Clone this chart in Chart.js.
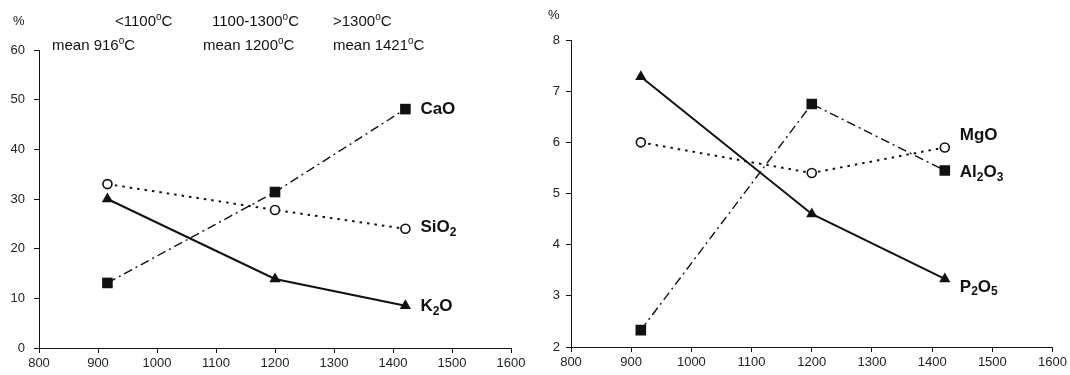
<!DOCTYPE html>
<html>
<head>
<meta charset="utf-8">
<script src="https://cdn.jsdelivr.net/npm/chart.js@4"></script>
<style>
  body { margin: 0; background: #fff; }
  .box { position: absolute; top: 0; width: 535px; height: 375px; }
</style>
</head>
<body>
<div class="box" style="left:0"><canvas id="left" width="535" height="375"></canvas></div>
<div class="box" style="left:535px"><canvas id="right" width="535" height="375"></canvas></div>
<script>
// temperatures (°C)
const temps = [916, 1200, 1421];

// left panel, wt %
const cao = [13.1, 31.4, 48.1];
const sio2 = [33.0, 27.8, 24.0];
const k2o = [30.0, 13.9, 8.5];

// right panel, wt %
const mgo = [6.0, 5.4, 5.9];
const al2o3 = [2.33, 6.75, 5.45];
const p2o5 = [7.28, 4.6, 3.33];

const rangeLabels = ['<1100°C', '1100-1300°C', '>1300°C'];
const meanLabels = ['mean 916°C', 'mean 1200°C', 'mean 1421°C'];

const FONT = '"Liberation Sans", Arial, sans-serif';
const INK = '#111';

function pts(ys) {
    return temps.map((t, i) => ({ x: t, y: ys[i] }));
}

// text with digits as subscripts (CaO, SiO2, K2O ...)
function drawFormula(ctx, text, x, y) {
    let cx = x;
    for (const ch of text) {
        const sub = /[0-9]/.test(ch);
        ctx.font = sub ? 'bold 12px ' + FONT : 'bold 17px ' + FONT;
        ctx.fillText(ch, cx, sub ? y + 5 : y);
        cx += ctx.measureText(ch).width;
    }
}

// '°' drawn as a raised small o, like the original figure
function drawDeg(ctx, text, x, y) {
    let cx = x;
    const parts = text.split('°');
    parts.forEach((p, i) => {
        if (i > 0) {
            ctx.font = '10px ' + FONT;
            ctx.fillText('o', cx, y - 5);
            cx += ctx.measureText('o').width;
        }
        ctx.font = '15px ' + FONT;
        ctx.fillText(p, cx, y);
        cx += ctx.measureText(p).width;
    });
}

const seriesLabels = {
    id: 'seriesLabels',
    afterDatasetsDraw(chart) {
        const ctx = chart.ctx;
        ctx.save();
        ctx.fillStyle = INK;
        ctx.textBaseline = 'middle';
        ctx.textAlign = 'left';
        chart.data.datasets.forEach((ds, i) => {
            const meta = chart.getDatasetMeta(i);
            const last = meta.data[meta.data.length - 1];
            drawFormula(ctx, ds.label, last.x + ds.labelDx, last.y + ds.labelDy);
        });
        ctx.restore();
    }
};

const headers = {
    id: 'headers',
    afterDraw(chart) {
        const ctx = chart.ctx;
        const o = chart.options.plugins.headers;
        ctx.save();
        ctx.fillStyle = INK;
        ctx.textBaseline = 'middle';
        ctx.textAlign = 'left';
        ctx.font = '13px ' + FONT;
        ctx.fillText('%', o.pctX, o.pctY);
        if (o.showRanges) {
            const r1 = [115, 212, 333];
            const r2 = [52, 203, 333];
            rangeLabels.forEach((t, i) => drawDeg(ctx, t, r1[i], 22));
            meanLabels.forEach((t, i) => drawDeg(ctx, t, r2[i], 46));
        }
        ctx.restore();
    }
};

function lineSet(label, ys, kind, dx, dy) {
    const base = {
        label: label,
        data: pts(ys),
        showLine: true,
        borderColor: INK,
        pointBorderColor: INK,
        labelDx: dx,
        labelDy: dy,
    };
    if (kind === 'square') {
        return Object.assign(base, {
            borderWidth: 1.4, borderDash: [9, 4, 2, 4],
            pointStyle: 'rect', pointRadius: 7.5, pointBackgroundColor: INK, pointBorderWidth: 0,
        });
    }
    if (kind === 'circle') {
        return Object.assign(base, {
            borderWidth: 2, borderDash: [2.5, 5],
            pointStyle: 'circle', pointRadius: 4.5, pointBackgroundColor: '#fff', pointBorderWidth: 1.6,
        });
    }
    return Object.assign(base, {
        borderWidth: 2, borderDash: [],
        pointStyle: 'triangle', pointRadius: 6.5, pointBackgroundColor: INK, pointBorderWidth: 0,
    });
}

function makeChart(id, datasets, yMin, yMax, yStep, pad, yWidth, yPad, xHeight, hdr) {
    const axisGrid = {
        display: true,
        drawOnChartArea: false,
        drawTicks: true,
        tickLength: 5,
        tickColor: INK,
        tickWidth: 1,
    };
    return new Chart(document.getElementById(id), {
        type: 'scatter',
        data: { datasets: datasets },
        options: {
            responsive: false,
            animation: false,
            devicePixelRatio: 1,
            layout: { padding: pad },
            plugins: {
                legend: { display: false },
                tooltip: { enabled: false },
                headers: hdr,
            },
            scales: {
                x: {
                    type: 'linear',
                    min: 800,
                    max: 1600,
                    grid: axisGrid,
                    border: { color: INK, width: 1 },
                    ticks: {
                        stepSize: 100,
                        color: '#222',
                        padding: 3,
                        maxRotation: 0,
                        font: { family: FONT, size: 13 },
                        callback: (v) => String(v),
                    },
                    afterFit: (s) => { s.height = xHeight; },
                },
                y: {
                    min: yMin,
                    max: yMax,
                    grid: axisGrid,
                    border: { color: INK, width: 1 },
                    ticks: {
                        stepSize: yStep,
                        color: '#222',
                        padding: yPad,
                        font: { family: FONT, size: 13 },
                    },
                    afterFit: (s) => { s.width = yWidth; },
                },
            },
        },
        plugins: [seriesLabels, headers],
    });
}

makeChart('left', [
    lineSet('CaO', cao, 'square', 15, 0),
    lineSet('SiO2', sio2, 'circle', 15, -1),
    lineSet('K2O', k2o, 'triangle', 15, 1),
], 0, 60, 10, { left: 0, top: 50, right: 24, bottom: 0 }, 39, 9, 27,
   { pctX: 13, pctY: 21, showRanges: true });

makeChart('right', [
    lineSet('MgO', mgo, 'circle', 15, -12),
    lineSet('Al2O3', al2o3, 'square', 15, 2),
    lineSet('P2O5', p2o5, 'triangle', 15, 8),
], 2, 8, 1, { left: 0, top: 40, right: 14, bottom: 0 }, 36, 6, 28,
   { pctX: 13, pctY: 15, showRanges: false });
</script>
</body>
</html>
